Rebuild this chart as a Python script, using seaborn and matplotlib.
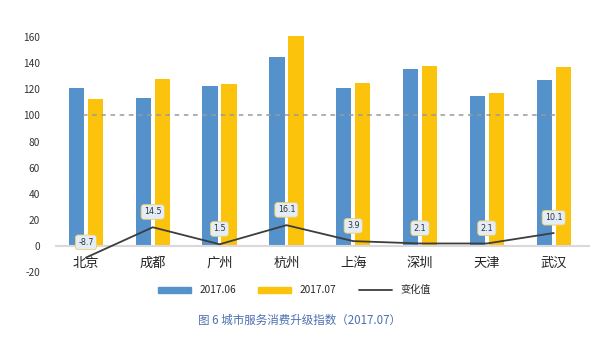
import matplotlib
matplotlib.use("Agg")
import matplotlib.pyplot as plt
from matplotlib.patches import Patch
from matplotlib.lines import Line2D
import seaborn as sns
import pandas as pd
import numpy as np

cities = ["北京", "成都", "广州", "杭州", "上海", "深圳", "天津", "武汉"]
jun = [121.0, 113.6, 122.6, 145.0, 121.1, 135.5, 114.9, 127.3]
jul = [112.3, 128.1, 124.1, 161.1, 125.0, 137.6, 117.0, 137.4]
change = [-8.7, 14.5, 1.5, 16.1, 3.9, 2.1, 2.1, 10.1]
series = ["2017.06", "2017.07"]
yticks = [-20, 0, 20, 40, 60, 80, 100, 120, 140, 160]

sns.set_theme(style="white")
plt.rcParams["font.family"] = ["Noto Sans CJK SC", "DejaVu Sans"]

BLUE = "#5592cb"
YELLOW = "#fcc30d"
LINE = "#3d3d3d"

df = pd.DataFrame({
    "city": cities * 2,
    "value": jun + jul,
    "series": [series[0]] * len(cities) + [series[1]] * len(cities),
})

fig = plt.figure(figsize=(6, 3.37), dpi=100)
ax = fig.add_axes([0.092, 0.184, 0.891, 0.745])

sns.barplot(data=df, x="city", y="value", hue="series", order=cities,
            hue_order=series, palette=[BLUE, YELLOW], width=0.57, gap=0.2,
            ax=ax, legend=False, saturation=1, linewidth=0)

xpos = np.arange(len(cities))
sns.lineplot(x=xpos, y=change, color=LINE, lw=1.3, ax=ax)

ax.axhline(0, color="#d9d9d9", lw=1.5, zorder=1)
ax.hlines(100, xpos[0] - 0.05, xpos[-1] + 0.05, colors="#9a9a9a",
          linestyles=(0, (3, 3)), lw=1.1, zorder=3)

for i, v in enumerate(change):
    ax.annotate(f"{v}", xy=(i, v), xytext=(0, 11), textcoords="offset points",
                ha="center", va="center", fontsize=5.8, color="#333333",
                family=["DejaVu Sans"],
                bbox=dict(boxstyle="round,pad=0.35", fc="#e3edf8",
                          ec="#f2cc5a", lw=0.6), zorder=5)

ax.set_xlim(-0.46, 7.54)
ax.set_ylim(-22, 170)
ax.set_yticks(yticks)
ax.set_yticklabels([str(t) for t in yticks], fontsize=7.3, color="#333333")
ax.set_xticks(xpos)
ax.set_xticklabels(cities, fontsize=9.5, color="#222222")
ax.tick_params(axis="x", pad=-13, length=0)
ax.tick_params(axis="y", pad=11, length=0)
ax.set_xlabel("")
ax.set_ylabel("")
for s in ax.spines.values():
    s.set_visible(False)

handles = [Patch(color=BLUE), Patch(color=YELLOW), Line2D([], [], color=LINE, lw=1.3)]
fig.legend(handles, ["2017.06", "2017.07", "变化值"], loc="center",
           bbox_to_anchor=(0.49, 0.139), ncol=3, frameon=False, fontsize=7.3,
           handlelength=3.3, handleheight=0.5, handletextpad=0.8,
           columnspacing=2.2)

fig.text(0.5, 0.05, "图 6 城市服务消费升级指数（2017.07）", ha="center", va="center",
         fontsize=8.3, color="#4a6fb0", fontweight="medium")

fig.savefig("out.png", dpi=100)
